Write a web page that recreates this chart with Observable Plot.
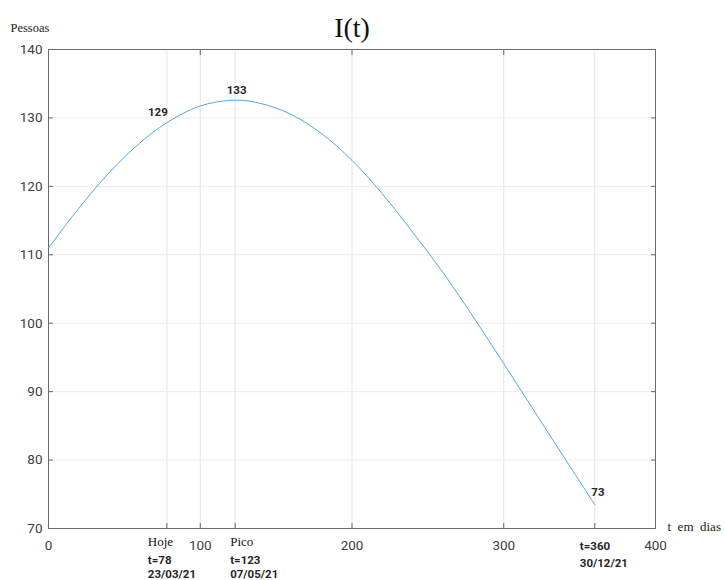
<!DOCTYPE html>
<html>
<head>
<meta charset="utf-8">
<script src="https://cdn.jsdelivr.net/npm/d3@7"></script>
<script src="https://cdn.jsdelivr.net/npm/@observablehq/plot@0.6"></script>
<style>
  html, body { margin: 0; padding: 0; background: #fff; }
  #chart svg { display: block; }
</style>
</head>
<body>
<div id="chart"></div>
<script>
// ---- data ----
const days = [0, 20, 40, 60, 78, 100, 123, 140, 160, 180, 200, 220, 240, 260, 280, 300, 320, 340, 360];
const infected = [111.0, 116.8, 122.0, 126.3, 129.3, 131.75, 132.6, 132.1, 130.5, 127.7, 123.8, 118.9, 113.3, 107.4, 100.9, 94.1, 87.2, 80.3, 73.5];

const xTicks = [0, 100, 200, 300, 400];
const yTicks = [70, 80, 90, 100, 110, 120, 130, 140];

const markerDays = [78, 123, 360];
const markerNames = ["Hoje", "Pico", ""];
const markerDates = ["23/03/21", "07/05/21", "30/12/21"];
const markerValues = [129, 133, 73];

const title = "I(t)";
const yLabel = "Pessoas";
const xLabel = "t  em  dias";

// ---- build ----
const series = days.map((d, i) => ({t: d, v: infected[i]}));
const markers = markerDays.map((d, i) => ({
  t: d,
  v: infected[days.indexOf(d)],
  name: markerNames[i],
  tag: `t=${d}\n${markerDates[i]}`,
  value: String(markerValues[i])
}));
const gridDays = [...xTicks.filter(t => t > 0 && t < 400), ...markerDays];
const innerY = yTicks.filter(t => t > 70 && t < 140);
const tickDays = [...xTicks, ...markerDays];

const serif = "Liberation Serif, DejaVu Serif, serif";
const sans = "Roboto, Liberation Sans, sans-serif";
const textCol = "#404040";

// per-marker label styling
const valueOffsets = [{dx: -9, dy: -10, anchor: "middle"}, {dx: 1.5, dy: -10, anchor: "middle"}, {dx: -3.5, dy: -12, anchor: "start"}];
const nameOffsets = [{dx: -19}, {dx: -5}, {dx: -15}];
const tagOffsets = [{dx: -19, dy: 25, lh: 1.27}, {dx: -5, dy: 25, lh: 1.27}, {dx: -15, dy: 10, lh: 1.45}];

const markerMarks = markers.flatMap((m, i) => [
  Plot.text([m], {x: "t", y: "v", text: "value", dx: valueOffsets[i].dx, dy: valueOffsets[i].dy,
    textAnchor: valueOffsets[i].anchor, lineAnchor: "middle", fontFamily: sans, fontWeight: "bold",
    fontSize: 11.5, fill: "#262626"}),
  Plot.text([m], {x: "t", text: "name", frameAnchor: "bottom", dx: nameOffsets[i].dx, dy: 8,
    textAnchor: "start", lineAnchor: "top", fontFamily: serif, fontSize: 13, fill: "#111"}),
  Plot.text([m], {x: "t", text: "tag", frameAnchor: "bottom", dx: tagOffsets[i].dx, dy: tagOffsets[i].dy,
    textAnchor: "start", lineAnchor: "top", lineHeight: tagOffsets[i].lh, fontFamily: sans,
    fontWeight: "bold", fontSize: 11.5, fill: "#262626"})
]);

const chart = Plot.plot({
  width: 725,
  height: 580,
  marginLeft: 48,
  marginRight: 70,
  marginTop: 49,
  marginBottom: 52,
  x: {domain: [0, 400], label: null},
  y: {domain: [70, 140], label: null},
  style: {fontFamily: sans, background: "#fff", overflow: "visible"},
  marks: [
    Plot.gridX(gridDays, {stroke: "#e4e4e4", strokeOpacity: 1, strokeWidth: 1}),
    Plot.gridY(innerY, {stroke: "#ebebeb", strokeOpacity: 1, strokeWidth: 1}),
    // inward ticks on all sides
    Plot.axisX(tickDays, {anchor: "bottom", tickSize: 5, dy: -5, tickFormat: () => "", stroke: "#666", label: null}),
    Plot.axisX(xTicks, {anchor: "top", tickSize: 5, dy: 5, tickFormat: () => "", stroke: "#666", label: null}),
    Plot.axisY(yTicks, {anchor: "left", tickSize: 5, dx: 5, tickFormat: () => "", stroke: "#666", label: null}),
    Plot.axisY(yTicks, {anchor: "right", tickSize: 5, dx: -5, tickFormat: () => "", stroke: "#666", label: null}),
    // tick labels
    Plot.axisX(xTicks, {anchor: "bottom", tickSize: 0, tickPadding: 12, fontSize: 13.5, fill: textCol, label: null}),
    Plot.axisY(yTicks, {anchor: "left", tickSize: 0, tickPadding: 6, fontSize: 13.5, fill: textCol, label: null}),
    Plot.frame({stroke: "#6a6a6a", strokeWidth: 1}),
    Plot.line(series, {x: "t", y: "v", stroke: "#57a6e2", strokeWidth: 1, curve: "catmull-rom"}),
    ...markerMarks,
    Plot.text([title], {frameAnchor: "top", dy: -13, lineAnchor: "bottom", fontFamily: serif, fontSize: 28, fill: "#111"}),
    Plot.text([yLabel], {frameAnchor: "top-left", dx: -38, dy: -18, textAnchor: "start", lineAnchor: "bottom", fontFamily: serif, fontSize: 12.5, fill: "#222"}),
    Plot.text([xLabel], {frameAnchor: "bottom-right", dx: 12, dy: 2, textAnchor: "start", lineAnchor: "bottom", fontFamily: serif, fontSize: 13, fill: "#222"})
  ]
});

document.getElementById("chart").appendChild(chart);
</script>
</body>
</html>
